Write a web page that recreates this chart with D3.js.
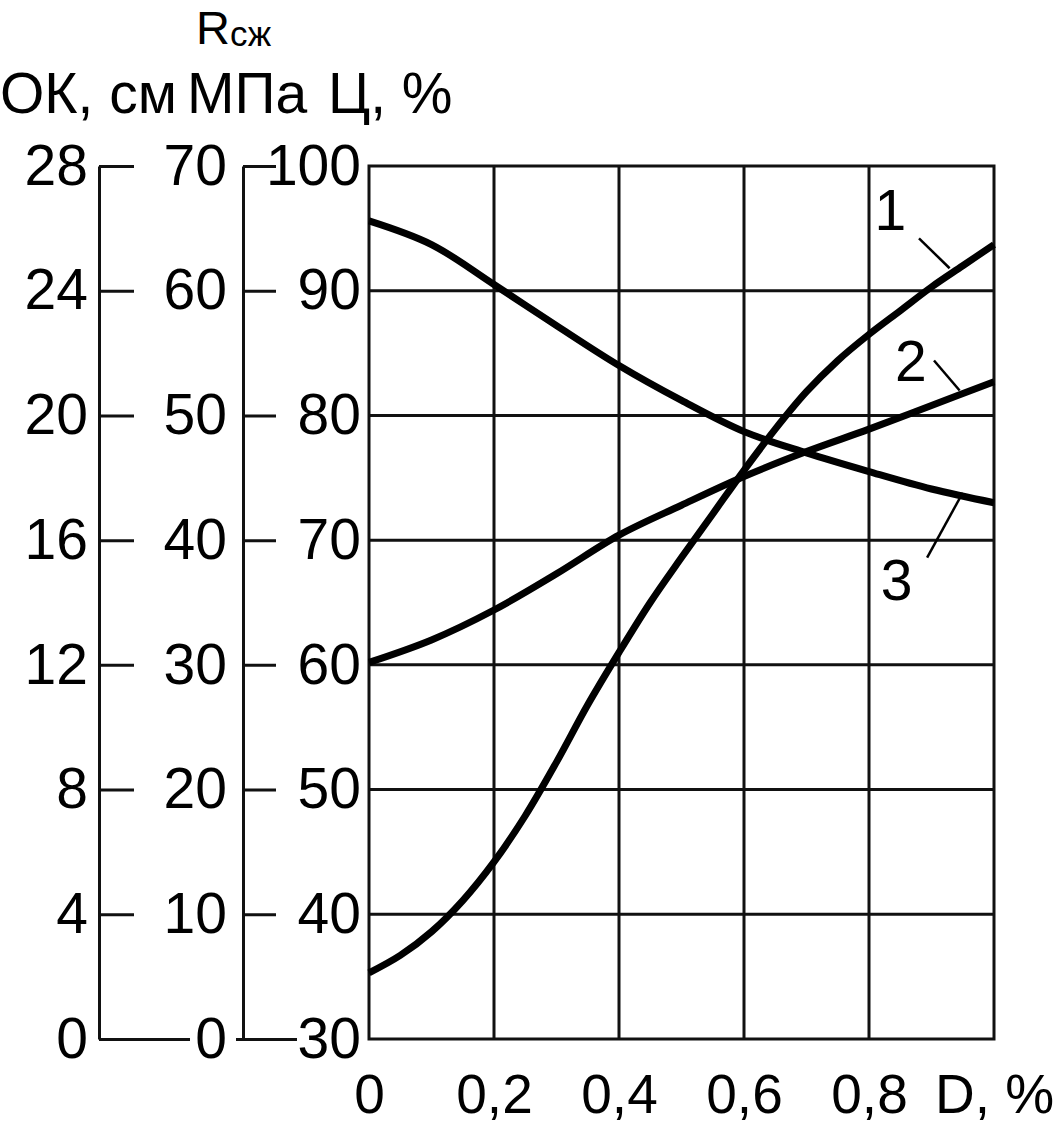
<!DOCTYPE html>
<html>
<head>
<meta charset="utf-8">
<script src="https://cdn.jsdelivr.net/npm/d3@7"></script>
<style>
  html, body { margin: 0; padding: 0; background: #fff; }
  svg { display: block; }
  text { font-family: "Liberation Sans", Arial, Helvetica, sans-serif; fill: #000; }
</style>
</head>
<body>
<script>
// ---------- data ----------
const xTicks = [0, 0.2, 0.4, 0.6, 0.8, 1.0];
const okTicks = [0, 4, 8, 12, 16, 20, 24, 28];          // ОК, см
const mpaTicks = [0, 10, 20, 30, 40, 50, 60, 70];       // Rсж, МПа
const cTicks = [30, 40, 50, 60, 70, 80, 90, 100];       // Ц, %

// curves, values read on the Ц (%) scale
const curve1D = [0, 0.05, 0.1, 0.15, 0.2, 0.25, 0.3, 0.35, 0.4, 0.45, 0.5, 0.55, 0.6, 0.65, 0.7, 0.75, 0.8, 0.85, 0.9, 0.95, 1.0];
const curve1V = [35.3, 36.7, 38.6, 41.1, 44.2, 47.9, 52.2, 56.8, 61.0, 65.0, 68.6, 72.1, 75.6, 78.9, 81.9, 84.4, 86.5, 88.4, 90.3, 92.0, 93.7];
const curve2D = [0, 0.1, 0.2, 0.3, 0.4, 0.5, 0.6, 0.7, 0.8, 0.9, 1.0];
const curve2V = [60.2, 62.0, 64.4, 67.3, 70.4, 72.8, 75.1, 77.1, 78.9, 80.8, 82.7];
const curve3D = [0, 0.1, 0.2, 0.3, 0.4, 0.5, 0.6, 0.7, 0.8, 0.9, 1.0];
const curve3V = [95.6, 93.7, 90.5, 87.2, 84.0, 81.2, 78.7, 77.0, 75.5, 74.1, 73.0];

// curve labels (text anchor in D / Ц units) and leader lines
const labelNames = ["1", "2", "3"];
const labelD = [0.834, 0.867, 0.844];
const labelV = [94.9, 82.8, 65.2];
const leaderD1 = [0.880, 0.904, 0.893];
const leaderV1 = [94.2, 84.4, 68.6];
const leaderD2 = [0.929, 0.945, 0.950];
const leaderV2 = [91.8, 82.0, 73.8];

// ---------- layout ----------
const W = 1064, H = 1126;
const plotL = 369, plotR = 994, plotT = 166, plotB = 1039;
const okX = 99, mpaX = 243;
const FS = 57;

const svg = d3.select("body").append("svg").attr("width", W).attr("height", H);
svg.append("rect").attr("width", W).attr("height", H).attr("fill", "#fff");

const x = d3.scaleLinear().domain([0, 1]).range([plotL, plotR]);
const yC = d3.scaleLinear().domain([30, 100]).range([plotB, plotT]);
const yOK = d3.scaleLinear().domain([0, 28]).range([plotB, plotT]);
const yMPa = d3.scaleLinear().domain([0, 70]).range([plotB, plotT]);

// ---------- grid ----------
const grid = svg.append("g").attr("stroke", "#111").attr("stroke-width", 3);
grid.selectAll("line.v").data(xTicks.slice(1, -1)).join("line")
  .attr("x1", d => x(d)).attr("x2", d => x(d)).attr("y1", plotT).attr("y2", plotB);
grid.selectAll("line.h").data(cTicks.slice(1, -1)).join("line")
  .attr("x1", plotL).attr("x2", plotR).attr("y1", d => yC(d)).attr("y2", d => yC(d));
svg.append("rect").attr("x", plotL).attr("y", plotT).attr("width", plotR - plotL).attr("height", plotB - plotT)
  .attr("fill", "none").attr("stroke", "#111").attr("stroke-width", 3);

function styleAxis(g) {
  g.selectAll("text").attr("font-size", FS).attr("font-family", "Liberation Sans, Arial, sans-serif").attr("fill", "#000");
  g.selectAll("line,path").attr("stroke", "#111").attr("stroke-width", 3);
}

// ---------- Ц axis ----------
const axC = svg.append("g").attr("transform", `translate(${plotL},0)`)
  .call(d3.axisLeft(yC).tickValues(cTicks).tickSize(0).tickPadding(8).tickFormat(d3.format("d")));
axC.select(".domain").remove();
styleAxis(axC);

// ---------- МПа axis ----------
const axM = svg.append("g").attr("transform", `translate(${mpaX},0)`)
  .call(d3.axisLeft(yMPa).tickValues(mpaTicks).tickSizeInner(-33).tickSizeOuter(0).tickPadding(16).tickFormat(d3.format("d")));
styleAxis(axM);
axM.selectAll(".tick").filter(d => d === 0).select("line").attr("x1", -7).attr("x2", 54);

// ---------- ОК axis ----------
const axO = svg.append("g").attr("transform", `translate(${okX},0)`)
  .call(d3.axisLeft(yOK).tickValues(okTicks).tickSizeInner(-35).tickSizeOuter(0).tickPadding(11).tickFormat(d3.format("d")));
styleAxis(axO);
axO.selectAll(".tick").filter(d => d === 0).select("line").attr("x2", 91);

// ---------- x axis ----------
const axX = svg.append("g").attr("transform", `translate(0,${plotB})`)
  .call(d3.axisBottom(x).tickValues(xTicks).tickSize(0).tickPadding(35)
    .tickFormat(d => d === 1 ? "D, %" : (d === 0 ? "0" : d3.format(".1f")(d).replace(".", ","))));
axX.select(".domain").remove();
styleAxis(axX);
axX.selectAll("text").attr("font-size", 55);

// ---------- headers ----------
svg.append("text").attr("x", 0).attr("y", 113).attr("font-size", FS).text("ОК, см");
svg.append("text").attr("x", 187).attr("y", 113).attr("font-size", FS).text("МПа");
svg.append("text").attr("x", 328).attr("y", 113).attr("font-size", FS).text("Ц, %");
const r = svg.append("text").attr("x", 196).attr("y", 44).attr("font-size", 47);
r.append("tspan").text("R");
r.append("tspan").attr("font-size", 35).attr("dy", 2).text("сж");

// ---------- curves ----------
const line = d3.line().x(d => x(d[0])).y(d => yC(d[1])).curve(d3.curveCatmullRom.alpha(0.5));
const curves = [
  d3.zip(curve1D, curve1V),
  d3.zip(curve2D, curve2V),
  d3.zip(curve3D, curve3V)
];
svg.append("g").selectAll("path").data(curves).join("path")
  .attr("d", line).attr("fill", "none").attr("stroke", "#000")
  .attr("stroke-width", 7).attr("stroke-linecap", "butt").attr("stroke-linejoin", "round");

// ---------- labels ----------
const lab = svg.append("g");
labelNames.forEach((n, i) => {
  lab.append("line")
    .attr("x1", x(leaderD1[i])).attr("y1", yC(leaderV1[i]))
    .attr("x2", x(leaderD2[i])).attr("y2", yC(leaderV2[i]))
    .attr("stroke", "#000").attr("stroke-width", 2.5);
  lab.append("text").attr("x", x(labelD[i])).attr("y", yC(labelV[i]))
    .attr("text-anchor", "middle").attr("font-size", FS).text(n);
});
</script>
</body>
</html>
